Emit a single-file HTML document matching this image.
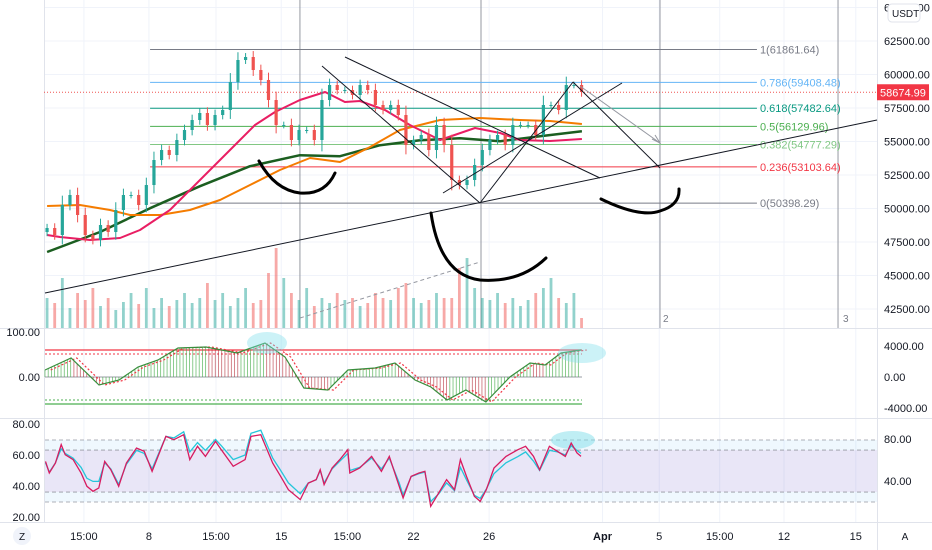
<!DOCTYPE html>
<html><head><meta charset="utf-8"><style>
html,body{margin:0;padding:0;background:#fff;width:932px;height:550px;overflow:hidden}
svg{display:block;font-family:"Liberation Sans",sans-serif}
</style></head><body>
<svg id="chart" width="932" height="550" viewBox="0 0 932 550" xmlns="http://www.w3.org/2000/svg"></svg>
<script>
// ---- data ----
const candleStart = 2.61, candleStep = 0.404;
const closes = [48544,48022,50261,51007,49515,48022,47649,48768,48246,49888,51007,51007,50261,51753,53619,54365,53992,55111,55858,56604,57127,56231,56977,57351,59440,61082,61306,60336,59590,58097,56231,56231,55111,55858,55858,55111,58097,59216,58843,58843,58470,59216,58843,57724,57351,57724,56977,54739,55111,55485,54365,56231,54739,52127,51753,52127,53246,54365,55111,55485,54739,56231,56231,56231,55485,57724,57724,57351,59216,59216,58694];
const volumes = [30,25,50,20,35,28,40,22,30,18,26,35,24,40,20,30,22,28,35,25,30,45,28,35,22,30,40,25,28,55,80,50,35,28,40,22,30,25,35,28,30,22,25,35,30,28,40,45,30,25,28,35,30,30,60,70,40,30,28,35,25,30,22,28,35,40,50,30,25,35,10];
const ma50T = [2.61,3.29,4.88,6.47,7.53,9.11,10.7,12.29,13.61,14.67,15.99,17.32,18.37,19.17,20.49,21.81,23.4,25.25,26.58,27.63,29.22,30.91];
const ma50V = [48022,47873,47649,47799,48395,49888,52127,54365,56231,57201,58097,58694,57948,58022,57351,56231,55111,56007,55634,55111,55037,55186];
const ma100T = [2.61,4.35,5.94,7,8.59,10.17,11.76,13.35,14.93,16.52,18.11,19.7,21.28,23.4,25.52,27.63,29.22,30.91];
const ma100V = [50186,50261,49888,49515,49515,49888,50634,51753,52873,53768,53470,54589,55858,56604,56753,56604,56530,56306];
const ma200T = [2.61,5.41,8.06,10.7,13.35,15.99,18.11,20.23,22.34,24.46,26.58,28.69,30.91];
const ma200V = [46753,48246,50022,51664,53156,53977,53903,54724,55097,55246,55022,55395,55768];
const oscT = [2.5,3.88,5.36,6.42,7.42,8.48,9.54,11.02,12.66,14.14,15.2,16.2,17.47,18.53,19.96,21.02,22.08,22.92,23.77,24.77,25.83,27.1,28.16,28.96,29.8,30.86];
const oscV = [903,2451,-1032,-387,1290,2193,3741,3870,3096,4386,2580,-1419,-1677,903,1161,1806,-387,-1290,-2967,-1677,-3225,0,1806,1548,3096,3483];
const rsiT = [2.53,2.73,3.05,3.36,3.57,3.99,4.41,4.72,5.04,5.35,5.66,5.98,6.4,6.81,7.34,7.75,8.17,8.9,9.32,9.84,10.16,10.57,10.99,11.52,11.83,12.46,13.09,13.4,13.92,14.55,14.97,15.38,16.01,16.43,16.85,17.06,17.27,17.69,18.1,18.52,18.63,19.15,19.78,20.3,20.72,21.24,21.45,21.87,22.29,22.6,22.91,23.33,23.75,24.17,24.48,24.8,25.22,25.53,25.85,26.26,26.89,27.52,27.93,28.35,28.67,29.19,29.61,30.03,30.34,30.65,30.86];
const rsiA = [55.9,48.4,54.8,66.7,60.2,57.0,48.4,39.8,36.6,38.7,55.9,50.5,39.8,54.8,64.5,62.4,49.5,72.0,69.9,73.1,57.0,65.6,59.1,68.8,63.4,52.7,57.0,72.0,73.1,54.8,46.2,37.6,31.2,41.9,44.1,50.5,40.9,51.6,57.0,63.4,48.4,51.6,59.1,49.5,59.1,39.8,32.3,46.2,48.4,49.5,26.9,35.5,44.1,37.6,57.0,46.2,33.3,30.1,37.6,51.6,59.1,63.4,65.6,59.1,50.5,65.6,62.4,59.1,67.7,61.3,59.1];
const rsiB = [55,49,55,64,61,58,52,45,43,43,55,51,41,54,63,61,51,72,71,75,62,68,63,70,66,57,60,74,76,58,50,42,35,42,44,50,42,51,56,61,50,52,58,51,58,42,34,46,48,49,30,35,42,37,52,44,34,32,38,48,55,59,62,56,50,63,62,60,66,63,61];
const priceTicks = [65000,62500,60000,57500,55000,52500,50000,47500,45000,42500];
const fibLevels = [61861.64,59408.48,57482.64,56129.96,54777.29,53103.64,50398.29];
const fibLabels = ["1(61861.64)","0.786(59408.48)","0.618(57482.64)","0.5(56129.96)","0.382(54777.29)","0.236(53103.64)","0(50398.29)"];
const fibColors = ["#787b86","#64b5f6","#089981","#4caf50","#81c784","#f23645","#787b86"];
const timeLabels = ["15:00","8","15:00","15","15:00","22","26","Apr","5","15:00","12","15"];
const timeDays = [4.56,8,11.55,15,18.5,22,26,32,35,38.2,41.6,45.4];
const lastPrice = 58674.99;

// ---- axes ----
const X = d => (d - 0.12) * 18.9;
const Y = p => 41 + (62500 - p) * 0.0134;
const YO = v => 377 - v / 129;
const YR = v => 424 + (80 - v) * 1.55;
const NS = "http://www.w3.org/2000/svg";
const svg = document.getElementById('chart');
function mk(tag, attrs, parent) {
  const e = document.createElementNS(NS, tag);
  for (const k in attrs) e.setAttribute(k, attrs[k]);
  (parent || svg).appendChild(e);
  return e;
}
function interp(T, V, t) {
  if (t <= T[0]) return V[0];
  for (let i = 1; i < T.length; i++) if (t <= T[i]) { const f = (t - T[i-1]) / (T[i] - T[i-1]); return V[i-1] + f * (V[i] - V[i-1]); }
  return V[V.length - 1];
}
function pathOf(T, V, fy) { return T.map((t, i) => (i ? 'L' : 'M') + X(t).toFixed(1) + ' ' + fy(V[i]).toFixed(1)).join(' '); }

// grid
const grid = mk('g', {});


priceTicks.forEach(p => mk('line', {x1: 44, x2: 877, y1: Y(p), y2: Y(p), stroke: '#f0f3fa'}, grid));
timeDays.forEach(d => mk('line', {x1: X(d), x2: X(d), y1: 0, y2: 522, stroke: '#f0f3fa'}, grid));
mk('line', {x1: 0, x2: 932, y1: 328.5, y2: 328.5, stroke: '#e0e3eb'});
mk('line', {x1: 0, x2: 932, y1: 418.5, y2: 418.5, stroke: '#e0e3eb'});
mk('line', {x1: 0, x2: 932, y1: 522.5, y2: 522.5, stroke: '#e0e3eb'});
mk('line', {x1: 877.5, x2: 877.5, y1: 0, y2: 550, stroke: '#e0e3eb'});
mk('line', {x1: 44.5, x2: 44.5, y1: 0, y2: 522, stroke: '#e0e3eb'});

// vertical drawing lines
[15.99, 25.57, 35.04, 44.46].forEach(d => mk('line', {x1: X(d), x2: X(d), y1: 0, y2: 328, stroke: '#9598a1', 'stroke-width': 1}));
const vt = mk('text', {x: 663, y: 322, 'font-size': 10, fill: '#787b86'}); vt.textContent = '2';
const vt2 = mk('text', {x: 843, y: 322, 'font-size': 10, fill: '#787b86'}); vt2.textContent = '3';

// volume
const vol = mk('g', {});


closes.forEach((c, i) => {
  const o = i ? closes[i-1] : c;
  const x = X(candleStart + i * candleStep);
  mk('rect', {x: x - 1.4, y: 328 - volumes[i], width: 2.8, height: volumes[i], fill: c >= o ? 'rgba(38,166,154,0.5)' : 'rgba(239,83,80,0.5)'}, vol);
});
mk('line', {x1: 300, y1: 318, x2: 480, y2: 262, stroke: '#9598a1', 'stroke-dasharray': '4 3'});

// fib
const fib = mk('g', {});


fibLevels.forEach((p, i) => {
  mk('line', {x1: X(8.06), x2: X(40.17), y1: Y(p), y2: Y(p), stroke: fibColors[i], 'stroke-width': 1}, fib);
  const t = mk('text', {x: X(40.17) + 3, y: Y(p) + 4, 'font-size': 11, fill: fibColors[i]}, fib);
  t.textContent = fibLabels[i];
});
mk('line', {x1: 44, x2: 877, y1: Y(lastPrice), y2: Y(lastPrice), stroke: '#ef5350', 'stroke-dasharray': '1 2'});

// MAs
[[ma200T, ma200V, '#1b5e20', 2.5, 'ma200-line'], [ma100T, ma100V, '#f57c00', 2, 'ma100-line'], [ma50T, ma50V, '#e91e63', 2, 'ma50-line']].forEach(m => {
  const p = mk('path', {d: pathOf(m[0], m[1], Y), fill: 'none', stroke: m[2], 'stroke-width': m[3], 'stroke-linejoin': 'round'});
  
  
});

// candles
const cg = mk('g', {});


closes.forEach((c, i) => {
  const o = i ? closes[i-1] : c - 300;
  const x = X(candleStart + i * candleStep);
  const up = c >= o, col = up ? '#26a69a' : '#ef5350';
  const hi = Math.max(o, c) + 250 + Math.abs(c - o) * 0.2, lo = Math.min(o, c) - 250 - Math.abs(c - o) * 0.2;
  mk('line', {x1: x, x2: x, y1: Y(hi), y2: Y(lo), stroke: col}, cg);
  const yt = Y(Math.max(o, c)), yb = Y(Math.min(o, c));
  mk('rect', {x: x - 1.6, y: yt, width: 3.2, height: Math.max(1, yb - yt), fill: col}, cg);
});

// trend drawings
const dr = mk('g', {stroke: '#131722', 'stroke-width': 1, fill: 'none'});


[[45,293,877,120],[345,57,600,178],[322,66,480,203],[443,193,622,83],[480,203,573,82],[573,82,660,168]].forEach(l => mk('line', {x1: l[0], y1: l[1], x2: l[2], y2: l[3]}, dr));
mk('line', {x1: 580, y1: 86, x2: 660, y2: 143, stroke: '#9598a1'});
mk('path', {d: 'M652 139 L660 143 L655 135', stroke: '#9598a1', fill: 'none'});
const hand = mk('g', {stroke: '#000', 'stroke-width': 3, fill: 'none', 'stroke-linecap': 'round'});


mk('path', {d: 'M259 161 Q275 190 300 193 Q325 195 335 173'}, hand);
mk('path', {d: 'M431 213 Q440 275 480 280 Q520 283 546 258'}, hand);
mk('path', {d: 'M601 199 Q640 218 660 211 Q680 205 679 189'}, hand);

// price axis
const ax = mk('g', {'font-size': 11, fill: '#131722'});


priceTicks.forEach(p => { const t = mk('text', {x: 884, y: Y(p) + 4}, ax); t.textContent = p.toFixed(2); });
const lp = mk('rect', {x: 877, y: Y(lastPrice) - 8, width: 52, height: 16, fill: '#f23645'});


const lpt = mk('text', {x: 880, y: Y(lastPrice) + 4, 'font-size': 11, fill: '#fff'}); lpt.textContent = lastPrice.toFixed(2);
const ub = mk('rect', {x: 888, y: 4, width: 32, height: 18, rx: 4, fill: '#fff', stroke: '#e0e3eb'});


const ut = mk('text', {x: 892, y: 17, 'font-size': 10, fill: '#131722'}); ut.textContent = 'USDT';

// oscillator pane
const osc = mk('g', {});


mk('line', {x1: 45, x2: 582, y1: 350, y2: 350, stroke: '#f23645', 'stroke-width': 1.2}, osc);
mk('line', {x1: 45, x2: 582, y1: 354, y2: 354, stroke: '#f23645', 'stroke-dasharray': '2 2'}, osc);
mk('line', {x1: 45, x2: 582, y1: 400, y2: 400, stroke: '#4caf50', 'stroke-dasharray': '2 2'}, osc);
mk('line', {x1: 45, x2: 582, y1: 404, y2: 404, stroke: '#4caf50', 'stroke-width': 1.2}, osc);
mk('line', {x1: 45, x2: 582, y1: 377, y2: 377, stroke: '#787b86', 'stroke-width': 0.8}, osc);
for (let t = oscT[0]; t <= oscT[oscT.length - 1]; t += 0.17) {
  const v = interp(oscT, oscV, t), vp = interp(oscT, oscV, t - 0.17);
  mk('line', {x1: X(t), x2: X(t), y1: 377, y2: YO(v), stroke: v >= vp ? 'rgba(76,175,80,0.8)' : 'rgba(178,40,51,0.7)', 'stroke-width': 0.8}, osc);
}
mk('path', {d: pathOf(oscT.map(t => t + 0.3), oscV, YO), fill: 'none', stroke: '#f23645', 'stroke-dasharray': '2 2', 'stroke-width': 1.2}, osc);
mk('path', {d: pathOf(oscT, oscV, YO), fill: 'none', stroke: '#388e3c', 'stroke-width': 1.2}, osc);
mk('ellipse', {cx: 267, cy: 343, rx: 20, ry: 11, fill: 'rgba(128,222,234,0.4)'}, osc);
mk('ellipse', {cx: 582, cy: 353, rx: 24, ry: 10, fill: 'rgba(128,222,234,0.4)'}, osc);
[["100.00",336],["0.00",381]].forEach(a => { const t = mk('text', {x: 40, y: a[1], 'font-size': 11, fill: '#131722', 'text-anchor': 'end'}); t.textContent = a[0]; });
[["4000.00",350],["0.00",381],["-4000.00",412]].forEach(a => { const t = mk('text', {x: 884, y: a[1], 'font-size': 11, fill: '#131722'}); t.textContent = a[0]; });

// RSI pane
const rp = mk('g', {});


mk('rect', {x: 45, y: YR(69.7), width: 832, height: YR(29.7) - YR(69.7), fill: 'rgba(33,150,243,0.07)'}, rp);
mk('rect', {x: 45, y: YR(63.2), width: 832, height: YR(36.1) - YR(63.2), fill: 'rgba(186,104,200,0.12)'}, rp);
[69.7, 63.2, 36.1, 29.7].forEach(v => mk('line', {x1: 45, x2: 877, y1: YR(v), y2: YR(v), stroke: '#9598a1', 'stroke-dasharray': '4 3', 'stroke-width': 0.8}, rp));
mk('ellipse', {cx: 573, cy: 440, rx: 22, ry: 9, fill: 'rgba(128,222,234,0.5)'}, rp);
mk('path', {d: pathOf(rsiT, rsiB, YR), fill: 'none', stroke: '#26c6da', 'stroke-width': 1.3}, rp);
mk('path', {d: pathOf(rsiT, rsiA, YR), fill: 'none', stroke: '#d81b60', 'stroke-width': 1.3}, rp);
[["80.00",428],["60.00",459],["40.00",490],["20.00",521]].forEach(a => { const t = mk('text', {x: 40, y: a[1], 'font-size': 11, fill: '#131722', 'text-anchor': 'end'}); t.textContent = a[0]; });
[["80.00",443],["40.00",485]].forEach(a => { const t = mk('text', {x: 884, y: a[1], 'font-size': 11, fill: '#131722'}); t.textContent = a[0]; });

// time axis
const ta = mk('g', {'font-size': 11, fill: '#131722', 'text-anchor': 'middle'});


timeLabels.forEach((l, i) => { const t = mk('text', {x: X(timeDays[i]), y: 540}, ta); t.textContent = l; if (l === 'Apr') t.setAttribute('font-weight', 'bold'); });
const zc = mk('circle', {cx: 22, cy: 536, r: 9, fill: '#f0f3fa'});


const zt = mk('text', {x: 22, y: 540, 'font-size': 10, fill: '#131722', 'text-anchor': 'middle'}); zt.textContent = 'Z';
const at = mk('text', {x: 905, y: 540, 'font-size': 10, fill: '#131722', 'text-anchor': 'middle'}); at.textContent = 'A';


</script>
</body></html>
